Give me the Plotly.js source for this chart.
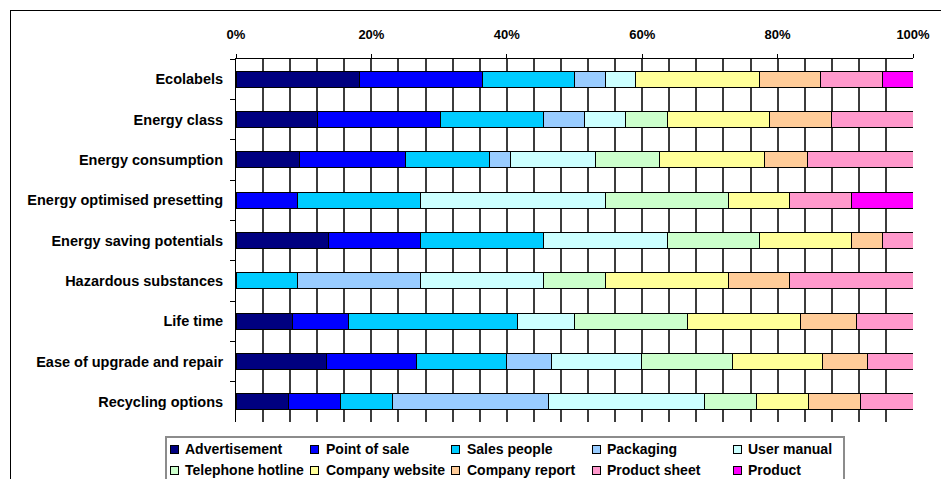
<!DOCTYPE html>
<html>
<head>
<meta charset="utf-8">
<script src="https://cdn.plot.ly/plotly-3.0.1.min.js"></script>
<style>
  html, body { margin: 0; padding: 0; background: #fff; overflow: hidden; }
  #chart { position: absolute; left: 0; top: 0; width: 941px; height: 479px; }
  #frame { position: absolute; left: 10px; top: 10px; width: 1000px; height: 600px;
           border: 1px solid #000; pointer-events: none; }
  #legendbox { position: absolute; left: 165px; top: 436px; width: 676px; height: 100px;
           border: 2px solid #8c8c8c; pointer-events: none; }
</style>
</head>
<body>
<div id="frame"></div>
<div id="legendbox"></div>
<div id="chart"></div>
<script>
// Categories (top to bottom)
const categories = [
  "Ecolabels",
  "Energy class",
  "Energy consumption",
  "Energy optimised presetting",
  "Energy saving potentials",
  "Hazardous substances",
  "Life time",
  "Ease of upgrade and repair",
  "Recycling options"
];

// Share (%) of each information source, per category (same order as categories)
const advertisement    = [18.2, 12.1,  9.4,  0.0, 13.6,  0.0,  8.3, 13.3,  7.7];
const pointOfSale      = [18.2, 18.2, 15.6,  9.1, 13.6,  0.0,  8.3, 13.3,  7.7];
const salesPeople      = [13.6, 15.2, 12.5, 18.2, 18.2,  9.1, 25.0, 13.3,  7.7];
const packaging        = [ 4.5,  6.1,  3.1,  0.0,  0.0, 18.2,  0.0,  6.7, 23.1];
const userManual       = [ 4.5,  6.1, 12.5, 27.3, 18.2, 18.2,  8.3, 13.3, 23.1];
const telephoneHotline = [ 0.0,  6.1,  9.4, 18.2, 13.6,  9.1, 16.7, 13.3,  7.7];
const companyWebsite   = [18.2, 15.2, 15.6,  9.1, 13.6, 18.2, 16.7, 13.3,  7.7];
const companyReport    = [ 9.1,  9.1,  6.3,  0.0,  4.5,  9.1,  8.3,  6.7,  7.7];
const productSheet     = [ 9.1, 12.1, 15.6,  9.1,  4.5, 18.2,  8.3,  6.7,  7.7];
const product          = [ 4.5,  0.0,  0.0,  9.1,  0.0,  0.0,  0.0,  0.0,  0.0];

const seriesNames = ["Advertisement", "Point of sale", "Sales people", "Packaging", "User manual",
                     "Telephone hotline", "Company website", "Company report", "Product sheet", "Product"];
const seriesValues = [advertisement, pointOfSale, salesPeople, packaging, userManual,
                      telephoneHotline, companyWebsite, companyReport, productSheet, product];
const seriesColors = ["#000080", "#0000FF", "#00CCFF", "#99CCFF", "#CCFFFF",
                      "#CCFFCC", "#FFFF99", "#FFCC99", "#FF99CC", "#FF00FF"];

const xTickVals = [0, 20, 40, 60, 80, 100];
const xTickText = ["0%", "20%", "40%", "60%", "80%", "100%"];

const traces = seriesNames.map((name, i) => ({
  type: "bar",
  orientation: "h",
  name: name,
  y: categories,
  x: seriesValues[i],
  marker: { color: seriesColors[i], line: { color: "#000", width: 1 } },
  hoverinfo: "name+x"
}));

const font = "'Liberation Sans', Arial, sans-serif";

// Legend (two rows of five), laid out as annotations in the bottom margin
const W = 941, H = 479, ML = 236, MR = 28, MT = 59, MB = 57;
const PW = W - ML - MR, PH = H - MT - MB;
const px2x = p => (p - ML) / PW;
const py2y = p => 1 - (p - MT) / PH;
const legendAnnotations = [];
seriesNames.forEach((name, i) => {
  const col = i % 5, row = Math.floor(i / 5);
  const textLeft = 184 + col * 140.75;
  const cy = 449 + row * 21;
  legendAnnotations.push({
    xref: "paper", yref: "paper",
    x: px2x(textLeft - 10), y: py2y(cy),
    xanchor: "center", yanchor: "middle",
    text: " ", showarrow: false,
    width: 7, height: 7, borderpad: 0,
    bgcolor: seriesColors[i], bordercolor: "#000", borderwidth: 1,
    font: { size: 6 }
  });
  legendAnnotations.push({
    xref: "paper", yref: "paper",
    x: px2x(textLeft), y: py2y(cy),
    xanchor: "left", yanchor: "middle",
    text: name, showarrow: false, borderpad: 0,
    font: { family: font, size: 14, color: "#000", weight: "bold" }
  });
});

const layout = {
  width: W,
  height: H,
  margin: { l: ML, r: MR, t: MT, b: MB, pad: 0, autoexpand: false },
  paper_bgcolor: "rgba(0,0,0,0)",
  plot_bgcolor: "#fff",
  barmode: "stack",
  barnorm: "percent",
  bargap: 0.6,
  showlegend: false,
  font: { family: font, size: 14, color: "#000", weight: "bold" },
  xaxis: {
    side: "top",
    range: [0, 100],
    tickvals: xTickVals,
    ticktext: xTickText,
    ticks: "outside",
    ticklen: 4,
    tickcolor: "#000",
    ticklabelstandoff: 10,
    tickfont: { family: font, size: 13, color: "#000", weight: "bold" },
    showline: true,
    linecolor: "#000",
    linewidth: 1,
    showgrid: true,
    gridcolor: "#3c3c3c",
    gridwidth: 2,
    zeroline: false,
    minor: { dtick: 4, tick0: 0, showgrid: true, gridcolor: "#3c3c3c", gridwidth: 2, ticks: "" },
    fixedrange: true
  },
  yaxis: {
    type: "category",
    autorange: "reversed",
    tickson: "boundaries",
    ticks: "outside",
    ticklen: 5,
    tickcolor: "#000",
    ticklabelstandoff: 9,
    tickfont: { family: font, size: 14.5, color: "#000", weight: "bold" },
    showline: true,
    linecolor: "#000",
    linewidth: 1,
    showgrid: false,
    zeroline: false,
    fixedrange: true
  },
  annotations: legendAnnotations
};

Plotly.newPlot("chart", traces, layout, { displayModeBar: false, staticPlot: true });
</script>
</body>
</html>
